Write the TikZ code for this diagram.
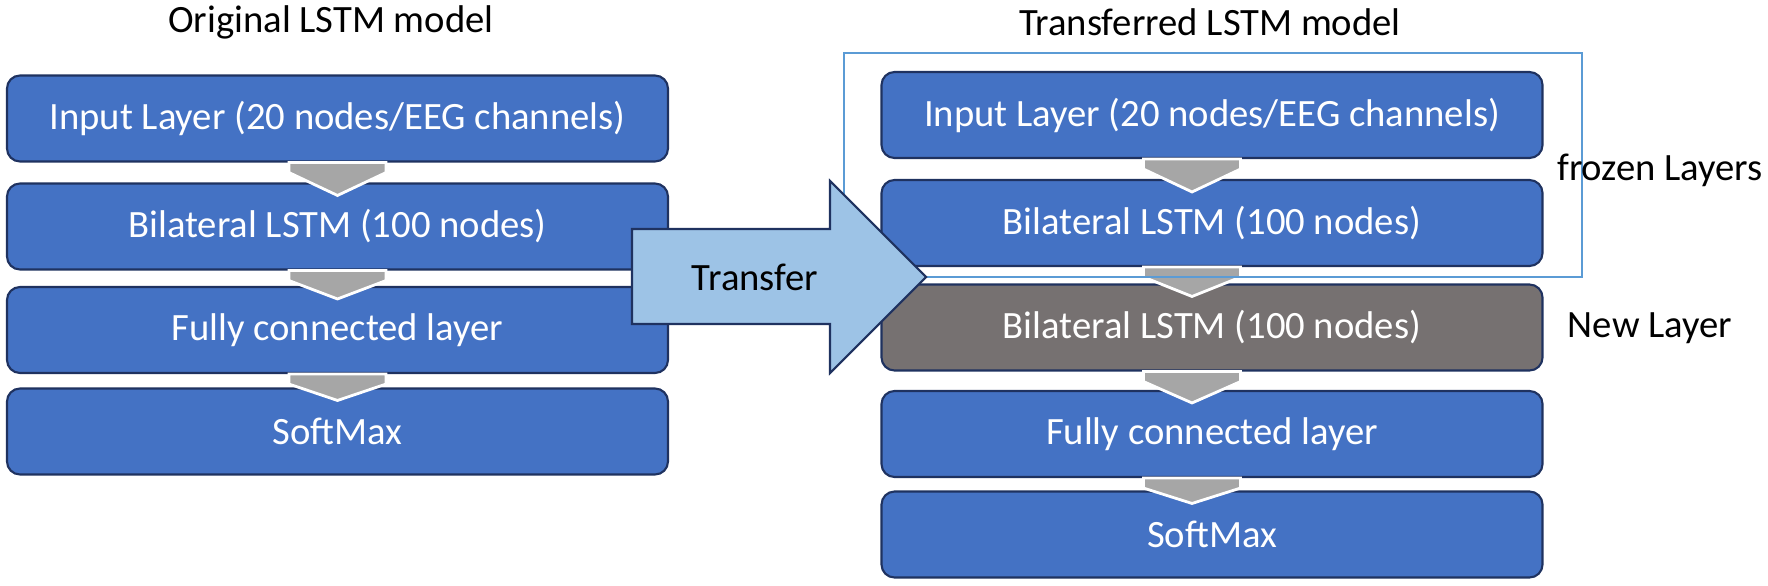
\documentclass[tikz,border=0pt]{standalone}
\usepackage{fontspec}
\setmainfont{Carlito}
\usepackage{tikz}
\usetikzlibrary{calc}

\definecolor{layerblue}{HTML}{4472C4}
\definecolor{layeredge}{HTML}{1F3260}
\definecolor{newgray}{HTML}{767171}
\definecolor{chevgray}{HTML}{A6A6A6}
\definecolor{frozenline}{HTML}{5B9BD5}
\definecolor{arrowfill}{HTML}{9DC3E6}

\begin{document}
\begin{tikzpicture}[font=\fontsize{11}{13}\selectfont]
	\tikzstyle{layer_box} = [rectangle, rounded corners=0.13cm, draw=layeredge, line width=0.6pt, fill=layerblue, text=white, minimum width=6.61cm, minimum height=0.86cm, inner sep=0pt]
	\tikzstyle{new_box} = [layer_box, fill=newgray]
	\tikzstyle{chevron_shape} = [fill=chevgray, draw=white, line width=0.8pt, line join=miter]
	\tikzstyle{frozen_box} = [draw=frozenline, line width=0.6pt]
	\tikzstyle{transfer_arrow} = [fill=arrowfill, draw=layeredge, line width=0.6pt, line join=miter]

	\useasboundingbox (0,0) rectangle (17.68,5.85);

	% Original model
	\node (Otitle) at (3.31,5.63) {Original LSTM model};
	\node (B1) [layer_box] at (3.375,4.665) {Input Layer (20 nodes/EEG channels)};
	\node (B2) [layer_box] at (3.375,3.585) {Bilateral LSTM (100 nodes)};
	\node (B3) [layer_box] at (3.375,2.55) {Fully connected layer};
	\node (B4) [layer_box] at (3.375,1.535) {SoftMax};

	% Transferred model
	\node (Ttitle) at (12.10,5.63) {Transferred LSTM model};
	\node (R1) [layer_box] at (12.12,4.70) {Input Layer (20 nodes/EEG channels)};
	\node (R2) [layer_box] at (12.12,3.62) {Bilateral LSTM (100 nodes)};
	\node (R3) [new_box] at (12.12,2.575) {Bilateral LSTM (100 nodes)};
	\node (R4) [layer_box] at (12.12,1.51) {Fully connected layer};
	\node (R5) [layer_box] at (12.12,0.505) {SoftMax};

	% Gray chevrons between the layers
	\foreach \a/\b/\s in {B1/B2/0, B2/B3/0, B3/B4/0, R1/R2/-0.2, R2/R3/-0.2, R3/R4/-0.2, R4/R5/-0.2}
	\draw[chevron_shape] ($(\a.south)+(\s-0.485,0)$) -- ++(0.97,0) -- ++(0,-0.10)
		-- ($(\b.north)+(\s,-0.13)$) -- ($(\a.south)+(\s-0.485,-0.10)$) -- cycle;

	% Frozen part
	\draw[frozen_box] (8.44,3.08) rectangle (15.82,5.32);
	\node (frz) at (16.60,4.15) {frozen Layers};
	\node (newl) at (16.50,2.57) {New Layer};

	% Transfer arrow
	\draw[transfer_arrow] (6.32,3.56) -- ++(1.98,0) -- ++(0,0.48) -- (9.26,3.08) -- (8.30,2.12) -- ++(0,0.49) -- ++(-1.98,0) -- cycle;
	\node (transfer) at (7.55,3.08) {Transfer};
\end{tikzpicture}
\end{document}
